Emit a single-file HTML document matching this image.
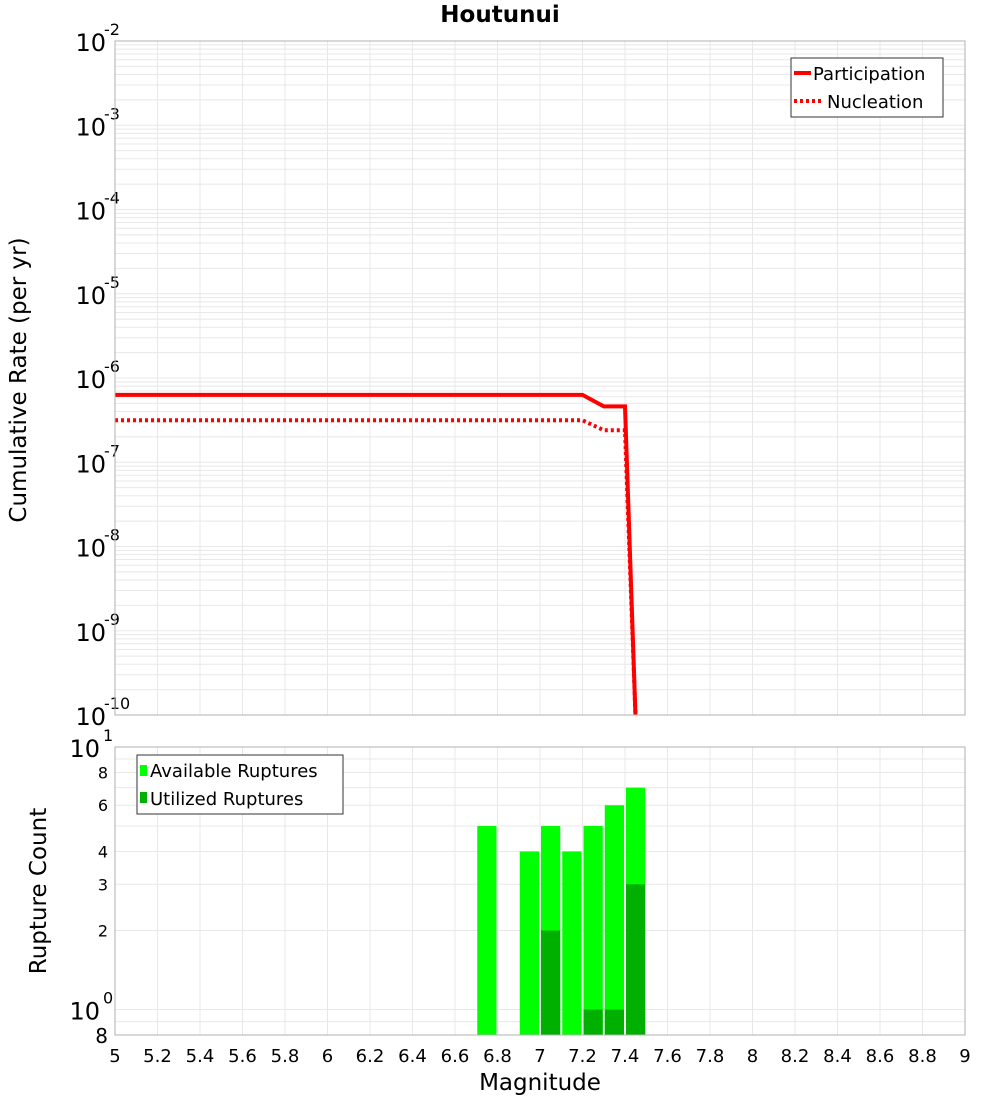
<!DOCTYPE html>
<html><head><meta charset="utf-8"><style>
body{margin:0;background:#fff;font-family:"DejaVu Sans","Liberation Sans",sans-serif;}
svg text{font-family:"DejaVu Sans","Liberation Sans",sans-serif;}
</style></head><body>
<svg id="c" width="1000" height="1100" xmlns="http://www.w3.org/2000/svg">
<text x="500" y="22" text-anchor="middle" font-size="23" font-weight="bold">Houtunui</text>
<text transform="translate(26,380) rotate(-90)" text-anchor="middle" font-size="23">Cumulative Rate (per yr)</text>
<text transform="translate(46,891) rotate(-90)" text-anchor="middle" font-size="23">Rupture Count</text>
<text x="540" y="1090" text-anchor="middle" font-size="23">Magnitude</text>
<g id="topg"></g>
<g id="botg"></g>
</svg>
<script>
const partMags=[5,7.2,7.3,7.4,7.45];
const partRates=[6.3e-7,6.3e-7,4.6e-7,4.6e-7,1e-11];
const nuclMags=[5,7.2,7.3,7.4,7.45];
const nuclRates=[3.15e-7,3.15e-7,2.4e-7,2.4e-7,1e-11];
const binStarts=[6.7,6.9,7.0,7.1,7.2,7.3,7.4];
const availCounts=[5,4,5,4,5,6,7];
const usedCounts=[0,0,2,0,1,1,3];
const xTicks=[5,5.2,5.4,5.6,5.8,6,6.2,6.4,6.6,6.8,7,7.2,7.4,7.6,7.8,8,8.2,8.4,8.6,8.8,9];
const topExps=[-2,-3,-4,-5,-6,-7,-8,-9,-10];
const botTicks=[0.8,2,3,4,6,8];

const NS="http://www.w3.org/2000/svg";
const L=115,R=965,T1=41,B1=715,T2=747,B2=1035;
const xs=m=>L+(m-5)/4*(R-L);
const y1=v=>T1+(-2-Math.log10(v))*(B1-T1)/8;
const y2=v=>T2+(1-Math.log10(v))*(B2-T2)/(1-Math.log10(0.8));
function mk(p,tag,a,txt){const e=document.createElementNS(NS,tag);for(const k in a)e.setAttribute(k,a[k]);if(txt!==undefined)e.textContent=txt;p.appendChild(e);return e;}
const gTop=document.getElementById('topg'),gBot=document.getElementById('botg');

for(let e=-10;e<-2;e++)for(let k=1;k<10;k++){const y=y1(k*Math.pow(10,e));
 const g=mk(gTop,'line',{x1:L,x2:R,y1:y,y2:y,stroke:'#e8e8e8','stroke-width':1});
 
 }
xTicks.forEach(m=>{const x=xs(m);
 const g=mk(gTop,'line',{x1:x,x2:x,y1:T1,y2:B1,stroke:'#e8e8e8'});
 
 
 const g2=mk(gBot,'line',{x1:x,x2:x,y1:T2,y2:B2,stroke:'#e8e8e8'});
 
 
 const t=mk(gBot,'text',{x:x,y:1062,'text-anchor':'middle','font-size':18},String(m));
 
 });
topExps.forEach(e=>{const y=y1(Math.pow(10,e));
 const t=mk(gTop,'text',{x:106,y:y+10,'text-anchor':'end','font-size':24},'10');
 
 
 const s=mk(gTop,'text',{x:104,y:y-6,'font-size':16},String(e));
 
 });
function path(ms,vs){return ms.map((m,i)=>(i?'L':'M')+xs(m)+','+Math.min(y1(vs[i]),B1+5)).join(' ');}
const cp=mk(gTop,'clipPath',{id:'cp1'});mk(cp,'rect',{x:L,y:T1,width:R-L,height:B1-T1});
const pl=mk(gTop,'path',{d:path(partMags,partRates),fill:'none',stroke:'#f00','stroke-width':4,'clip-path':'url(#cp1)'});


const nl=mk(gTop,'path',{d:path(nuclMags,nuclRates),fill:'none',stroke:'#f00','stroke-width':4,'stroke-dasharray':'3,3','clip-path':'url(#cp1)'});


const f1=mk(gTop,'rect',{x:L,y:T1,width:R-L,height:B1-T1,fill:'none',stroke:'#b0b0b0'});


const lg=mk(gTop,'g',{});


mk(lg,'rect',{x:791,y:58,width:152,height:59,fill:'#fff',stroke:'#333'});
mk(lg,'line',{x1:794,x2:811,y1:73,y2:73,stroke:'#f00','stroke-width':4});
mk(lg,'text',{x:813,y:80,'font-size':18},'Participation');
mk(lg,'line',{x1:794,x2:823,y1:101,y2:101,stroke:'#f00','stroke-width':4,'stroke-dasharray':'3,3'});
mk(lg,'text',{x:827,y:108,'font-size':18},'Nucleation');

[0.9,1,2,3,4,5,6,7,8,9].forEach(v=>{const y=y2(v);
 const g=mk(gBot,'line',{x1:L,x2:R,y1:y,y2:y,stroke:'#e8e8e8'});
 
 });
botTicks.forEach(v=>{const big=v===0.8;
 const t=mk(gBot,'text',{x:108,y:y2(v)+(big?8:6),'text-anchor':'end','font-size':big?20:16},big?'8':String(v));
 
 });
[[1,10],[0,1]].forEach(([e,v])=>{const y=y2(v);
 const t=mk(gBot,'text',{x:100,y:y+10,'text-anchor':'end','font-size':24},'10');
 
 
 mk(gBot,'text',{x:103,y:y-6,'font-size':16},String(e));});
binStarts.forEach((m,i)=>{const x=xs(m)+1,w=xs(m+0.1)-xs(m)-2;
 const a=mk(gBot,'rect',{x:x,y:y2(availCounts[i]),width:w,height:B2-y2(availCounts[i]),fill:'#00ff00'});
 
 
 if(usedCounts[i]>0){const u=mk(gBot,'rect',{x:x,y:y2(usedCounts[i]),width:w,height:B2-y2(usedCounts[i]),fill:'#00b000'});
 
 }});
const f2=mk(gBot,'rect',{x:L,y:T2,width:R-L,height:B2-T2,fill:'none',stroke:'#b0b0b0'});


const lb=mk(gBot,'g',{});


mk(lb,'rect',{x:137,y:755,width:206,height:59,fill:'#fff',stroke:'#333'});
mk(lb,'rect',{x:140,y:765,width:7,height:11,fill:'#00ff00'});
mk(lb,'text',{x:150,y:777,'font-size':18},'Available Ruptures');
mk(lb,'rect',{x:140,y:792,width:7,height:11,fill:'#00b000'});
mk(lb,'text',{x:150,y:805,'font-size':18},'Utilized Ruptures');
</script>
</body></html>
